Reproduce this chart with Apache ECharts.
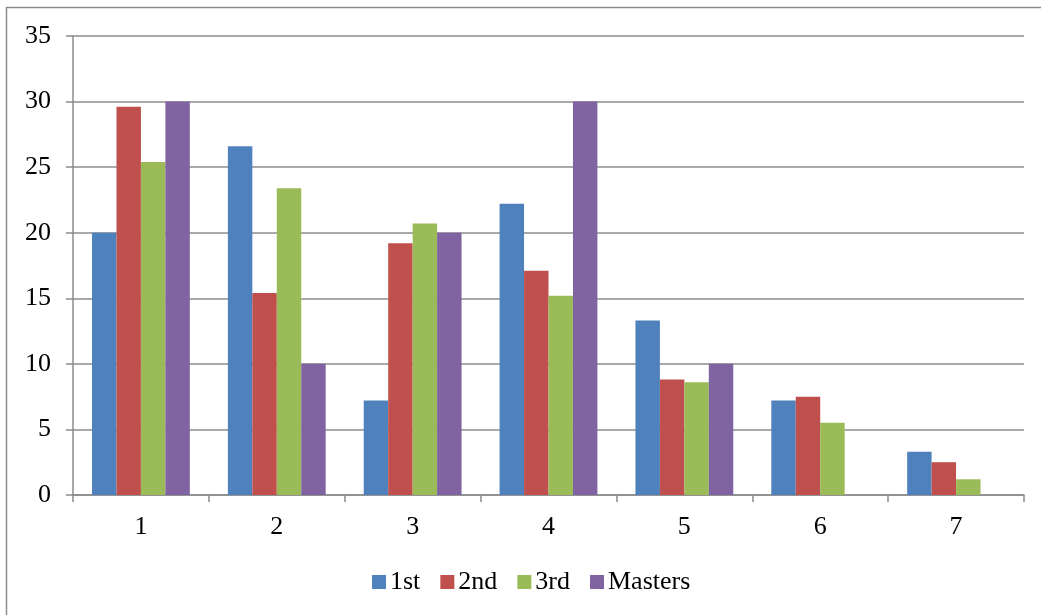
<!DOCTYPE html>
<html>
<head>
<meta charset="utf-8">
<script src="https://cdn.jsdelivr.net/npm/echarts@6/dist/echarts.min.js"></script>
<style>
  html, body { margin: 0; padding: 0; background: #ffffff; }
  #chart { width: 1041px; height: 615px; }
</style>
</head>
<body>
<div id="chart"></div>
<script>
// Categories along the x axis
const categories = ['1', '2', '3', '4', '5', '6', '7'];

// Series values per category
const first   = [20, 26.6, 7.2, 22.2, 13.3, 7.2, 3.3];
const second  = [29.6, 15.4, 19.2, 17.1, 8.8, 7.5, 2.5];
const third   = [25.4, 23.4, 20.7, 15.2, 8.6, 5.5, 1.2];
const masters = [30, 10, 20, 30, 10, 0, 0];

const seriesNames = ['1st', '2nd', '3rd', 'Masters'];
const seriesColors = ['#4f81bd', '#c0504d', '#9bbb59', '#8064a2'];
const seriesData = [first, second, third, masters];

const font = 'Liberation Serif, Times New Roman, serif';
const gridColor = '#8c8c8c';

const chart = echarts.init(document.getElementById('chart'), null, { renderer: 'canvas' });

chart.setOption({
  animation: false,
  backgroundColor: '#ffffff',
  graphic: [{
    type: 'polyline',
    shape: { points: [[6.5, 620], [6.5, 7.5], [1045, 7.5]] },
    style: { stroke: '#8c8c8c', lineWidth: 1.5, fill: null },
    silent: true
  }],
  grid: { left: 73, right: 17, top: 36, bottom: 120 },
  legend: {
    left: 367,
    top: 564,
    itemWidth: 14,
    itemHeight: 14,
    itemGap: 20,
    icon: 'rect',
    textStyle: { fontFamily: font, fontSize: 26, color: '#000000', padding: [0, 0, 0, -1] },
    data: seriesNames
  },
  xAxis: {
    type: 'category',
    data: categories,
    axisLine: { lineStyle: { color: gridColor, width: 1.5 } },
    axisTick: { show: true, length: 7, lineStyle: { color: gridColor, width: 1.5 } },
    axisLabel: { fontFamily: font, fontSize: 26, color: '#000000', margin: 19 }
  },
  yAxis: {
    type: 'value',
    min: 0,
    max: 35,
    interval: 5,
    axisLine: { show: true, lineStyle: { color: gridColor, width: 1.5 } },
    axisTick: { show: true, length: 7, lineStyle: { color: gridColor, width: 1.5 } },
    splitLine: { lineStyle: { color: gridColor, width: 1.5 } },
    axisLabel: { fontFamily: font, fontSize: 26, color: '#000000', margin: 22 }
  },
  series: seriesNames.map((name, i) => ({
    name: name,
    type: 'bar',
    data: seriesData[i],
    barGap: '0%',
    barCategoryGap: '28%',
    itemStyle: { color: seriesColors[i] }
  }))
});
</script>
</body>
</html>
